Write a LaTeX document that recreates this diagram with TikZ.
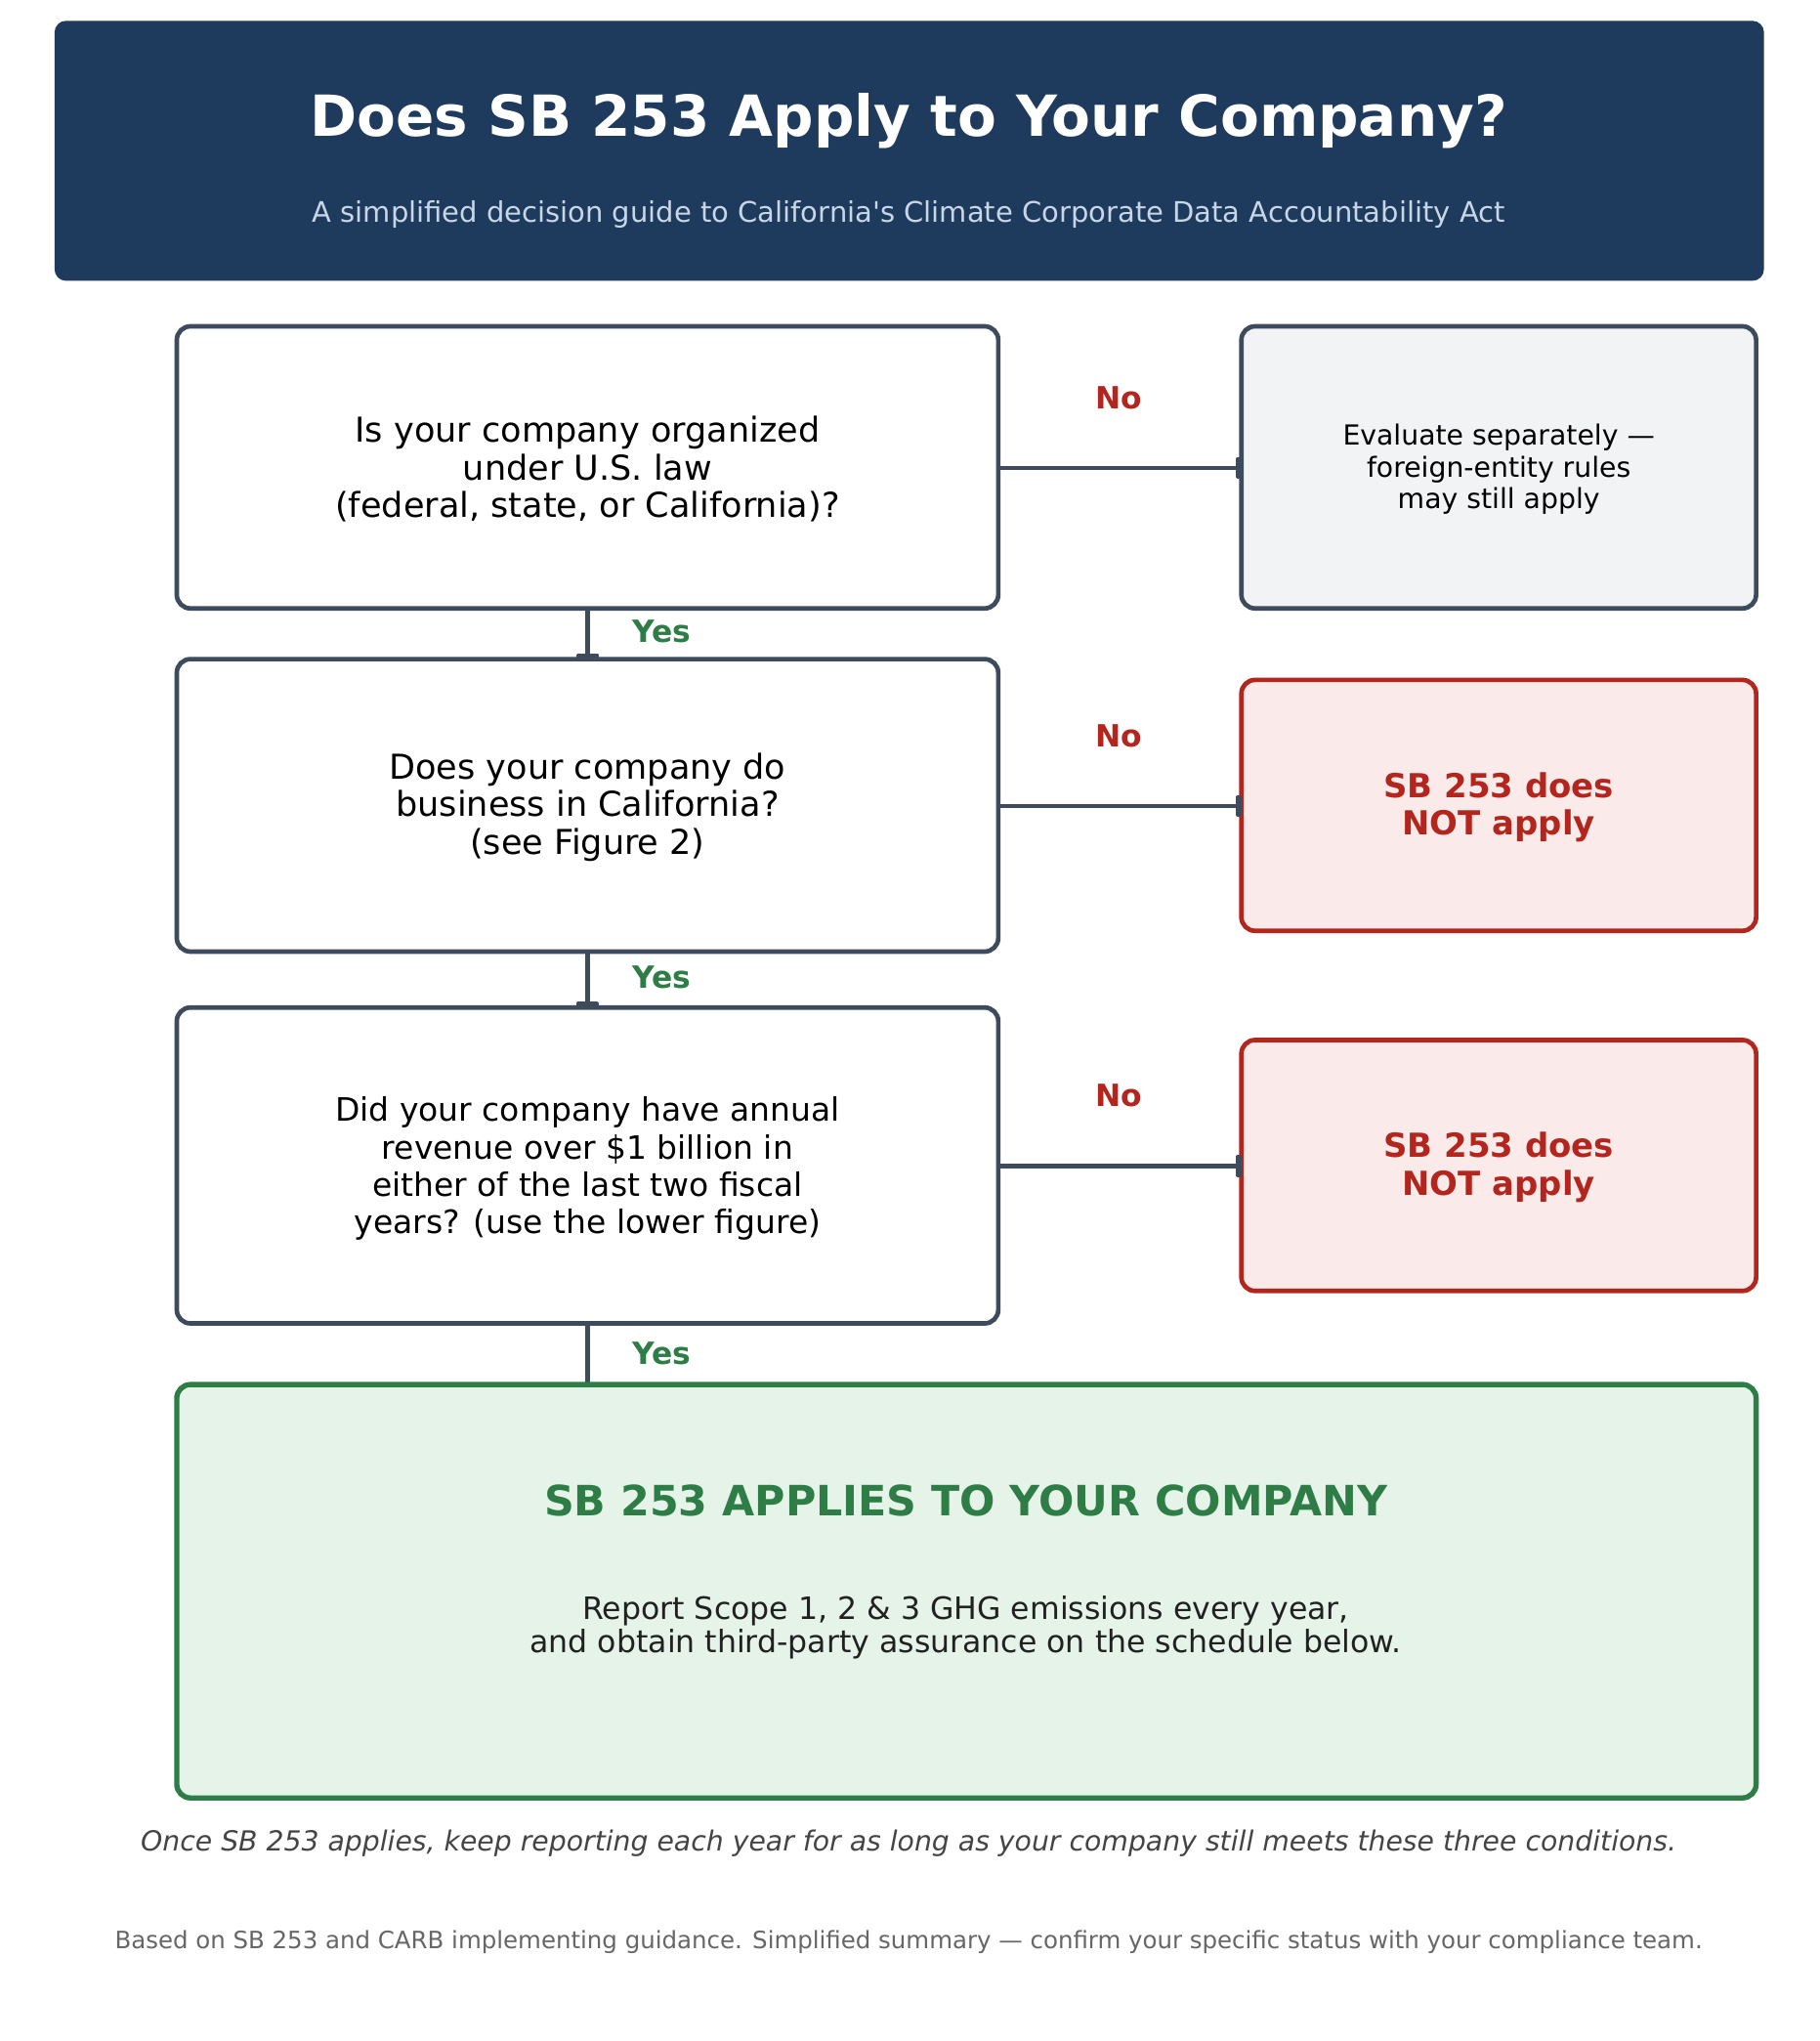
\documentclass[tikz,border=0pt]{standalone}
\usepackage{fontspec}
\setmainfont{DejaVu Sans}
\newfontfamily\subfont{DejaVu Sans}
\usetikzlibrary{arrows.meta}
\definecolor{navy}{HTML}{1E3A5C}
\definecolor{subt}{HTML}{C8D7E8}
\definecolor{slate}{HTML}{3D4B5C}
\definecolor{nored}{HTML}{B2261E}
\definecolor{pinkfill}{HTML}{FBEAEA}
\definecolor{yesgreen}{HTML}{2E7D46}
\definecolor{greenfill}{HTML}{E6F3E8}
\definecolor{greyfill}{HTML}{F2F3F5}
\definecolor{foot}{HTML}{444444}
\definecolor{src}{HTML}{666666}
\tikzset{
  qbox/.style={draw=slate, line width=2pt, rounded corners=6pt, fill=white},
  evalbox/.style={draw=slate, line width=2pt, rounded corners=6pt, fill=greyfill},
  notbox/.style={draw=nored, line width=2pt, rounded corners=6pt, fill=pinkfill},
  finalbox/.style={draw=yesgreen, line width=2.3pt, rounded corners=6pt, fill=greenfill},
  conn/.style={draw=slate, line width=1.9pt, -{Rectangle[length=2.6pt,width=9.5pt,round]}},
  plainconn/.style={draw=slate, line width=1.9pt},
  qtext/.style={align=center, font=\fontsize{15}{16.5}\selectfont, text=black},
  qtextsm/.style={align=center, font=\fontsize{14.1}{16.4}\selectfont, text=black},
  evtext/.style={align=center, font=\fontsize{12.1}{13.9}\selectfont, text=black},
  nottext/.style={align=center, font=\fontsize{14.5}{16.4}\selectfont\bfseries, text=nored},
  yeslab/.style={font=\fontsize{13.4}{15}\selectfont\bfseries, text=yesgreen},
  nolab/.style={font=\fontsize{13.4}{15}\selectfont\bfseries, text=nored},
}
\begin{document}
\begin{tikzpicture}[x=0.02cm,y=-0.02cm]
\useasboundingbox (0,0) rectangle (1400,1570);
\fill[white] (0,0) rectangle (1400,1570);
% header
\fill[navy, rounded corners=5pt] (42,16) rectangle (1357,216);
\node (title) at (699,93) {\fontsize{24.8}{30}\selectfont\bfseries\color{white}Does SB 253 Apply to Your Company?};
\node (subtitle) at (699,165) {\subfont\fontsize{12.4}{14}\selectfont\color{subt}A simplified decision guide to California's Climate Corporate Data Accountability Act};
% connectors (drawn under boxes)
\coordinate (q1b) at (452,468);
\coordinate (q2t) at (452,507);
\coordinate (q2b) at (452,732);
\coordinate (q3t) at (452,775);
\coordinate (q3b) at (452,1018);
\coordinate (fint) at (452,1065);
\draw[plainconn] (q3b) -- (fint);
% boxes
\draw[qbox] (136,251) rectangle (768,468);
\node[qtext] (q1) at (452,361) {Is your company organized\\under U.S. law\\(federal, state, or California)?};
\draw[evalbox] (955,251) rectangle (1351,468);
\node[evtext] (ev) at (1153,361) {Evaluate separately —\\foreign-entity rules\\may still apply};
\draw[qbox] (136,507) rectangle (768,732);
\node[qtext] (q2) at (452,621) {Does your company do\\business in California?\\(see Figure 2)};
\draw[notbox] (955,523) rectangle (1351,716);
\node[nottext] (n1) at (1153,621) {SB 253 does\\NOT apply};
\draw[qbox] (136,775) rectangle (768,1018);
\node[qtextsm] (q3) at (452,899) {Did your company have annual\\revenue over \$1 billion in\\either of the last two fiscal\\years? (use the lower figure)};
\draw[notbox] (955,800) rectangle (1351,993);
\node[nottext] (n2) at (1153,898) {SB 253 does\\NOT apply};
\draw[finalbox] (136,1065) rectangle (1351,1383);
\node (fintitle) at (743,1154) {\fontsize{18.3}{22}\selectfont\bfseries\color{yesgreen}SB 253 APPLIES TO YOUR COMPANY};
\node[align=center, font=\fontsize{13.5}{14.8}\selectfont, text={black!87}] (finbody) at (743,1252) {Report Scope 1, 2 \& 3 GHG emissions every year,\\and obtain third-party assurance on the schedule below.};
% arrows on top
\draw[conn] (q1b) -- (q2t);
\draw[conn] (q2b) -- (q3t);
\draw[conn] (768,360) -- (955,360);
\draw[conn] (768,620) -- (955,620);
\draw[conn] (768,897) -- (955,897);
% labels
\node[yeslab] (y1) at (509,486) {Yes};
\node[yeslab] (y2) at (509,752) {Yes};
\node[yeslab] (y3) at (509,1041) {Yes};
\node[nolab] (no1) at (861,306) {No};
\node[nolab] (no2) at (861,566) {No};
\node[nolab] (no3) at (861,843) {No};
% footers
\node (footnote) at (699,1418) {\fontsize{12.1}{14}\selectfont\itshape\color{foot}Once SB 253 applies, keep reporting each year for as long as your company still meets these three conditions.};
\node (source) at (699,1494) {\fontsize{10.46}{12}\selectfont\color{src}Based on SB 253 and CARB implementing guidance. Simplified summary — confirm your specific status with your compliance team.};
\end{tikzpicture}
\end{document}
